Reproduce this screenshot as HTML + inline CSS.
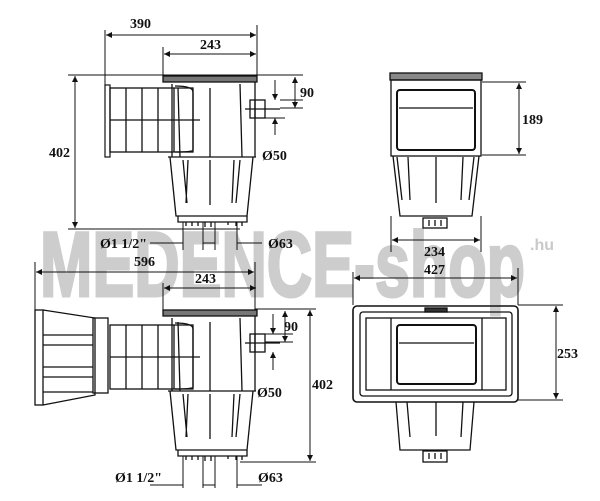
<!DOCTYPE html>
<html><head><meta charset="utf-8"><style>
html,body{margin:0;padding:0;background:#fff;}
svg{display:block}
text{font-family:"Liberation Serif",serif;font-weight:bold;font-size:14px;fill:#111}
</style></head><body>
<svg width="600" height="501" viewBox="0 0 600 501" xmlns="http://www.w3.org/2000/svg">
<defs>
<marker id="a" viewBox="0 0 10 10" refX="10" refY="5" markerWidth="9" markerHeight="6" orient="auto-start-reverse" markerUnits="userSpaceOnUse"><path d="M0,0L10,5L0,10z" fill="#111"/></marker>
<g id="body" stroke="#111" fill="none" stroke-width="1.3">
  <rect x="163" y="76" width="94" height="6" fill="#777"/>
  <path d="M172,84 L172,157 M255,82 L255,157 M168,157 L256,157"/>
  <path d="M210,88 L210,157 M240,84 L242,157 M178,88 L180,157"/>
  <path d="M170,157 L176,216 L247,216 L253,157"/>
  <path d="M183,160 L187,203 M188,160 L186,203 M210,160 L210,205 M234,160 L232,203 M240,160 L236,203"/>
  <path d="M178,216 L178,222 L247,222 L247,216" />
  <path d="M186,222v4M192,222v4M198,222v4M205,222v5M211,222v5M228,222v3M236,222v4M242,222v4"/>
  <rect x="250" y="100" width="15" height="18"/>
  <path d="M255,100v18M245,109h35"/>
</g>
<g id="basket" stroke="#111" fill="none" stroke-width="1.3">
  <rect x="110" y="88" width="83" height="64"/>
  <path d="M126,88v64M142,88v64M158,88v64M174,88v64M110,120h90"/>
  <path d="M175,86 Q193,86 193,92 L193,150 Q193,152 175,152"/>
</g>
</defs>

<!-- watermark -->
<text x="40" y="296" textLength="485" lengthAdjust="spacingAndGlyphs" style="font-family:'Liberation Sans',sans-serif;font-weight:bold;font-size:92px;fill:#cdcdcd;stroke:#cdcdcd;stroke-width:3">MEDENCE-shop</text>
<text x="530" y="250" style="font-family:'Liberation Sans',sans-serif;font-weight:bold;font-size:16px;fill:#c9c9c9">.hu</text>

<!-- TOP LEFT -->
<use href="#body"/>
<use href="#basket"/>
<rect x="105" y="85" width="5" height="72" fill="none" stroke="#111" stroke-width="1.2"/>
<g stroke="#111" stroke-width="1" fill="none">
  <path d="M105,30V86M257,25V76M163,47V78"/>
  <path d="M106,35H256" marker-start="url(#a)" marker-end="url(#a)"/>
  <path d="M164,54H256" marker-start="url(#a)" marker-end="url(#a)"/>
  <path d="M68,75H303M68,229H240"/>
  <path d="M75,76V228" marker-start="url(#a)" marker-end="url(#a)"/>
  <path d="M280,100H303M280,108H303M255,118H285"/>
  <path d="M295,77V108" marker-start="url(#a)" marker-end="url(#a)"/>
  <path d="M275,80V100" marker-end="url(#a)"/><path d="M275,135V118" marker-end="url(#a)"/>
  <path d="M183,222V250M203,222V250M215,222V250M237,222V250"/>
  <path d="M150,243H183M203,243H215M237,243H262"/>
</g>
<text x="130" y="28">390</text>
<text x="200" y="49">243</text>
<text x="300" y="97">90</text>
<text x="49" y="157">402</text>
<text x="262" y="160">Ø50</text>
<text x="100" y="248">Ø1 1/2"</text>
<text x="268" y="248">Ø63</text>

<!-- BOTTOM LEFT -->
<g transform="translate(0,234)"><use href="#body"/><use href="#basket" transform="translate(0,3)"/></g>
<g stroke="#111" stroke-width="1.3" fill="none">
  <rect x="35" y="310" width="8" height="95"/>
  <path d="M43,310 L95,318 L95,395 L43,405"/>
  <rect x="93" y="318" width="15" height="75"/>
  <path d="M43,335H93M43,345H93M43,367H93M43,377H93M43,392H93"/>
</g>
<g stroke="#111" stroke-width="1" fill="none">
  <path d="M35,262V310M255,262V310M163,283V312"/>
  <path d="M36,272H254" marker-start="url(#a)" marker-end="url(#a)"/>
  <path d="M164,288H256" marker-start="url(#a)" marker-end="url(#a)"/>
  <path d="M255,309H316M240,462H316"/>
  <path d="M310,310V461" marker-start="url(#a)" marker-end="url(#a)"/>
  <path d="M265,334H293M265,342H293"/>
  <path d="M285,311V342" marker-start="url(#a)" marker-end="url(#a)"/>
  <path d="M273,314V334" marker-end="url(#a)"/><path d="M273,370V352" marker-end="url(#a)"/>
  <path d="M183,456V488M203,456V488M215,456V488M237,456V488"/>
  <path d="M150,485H183M203,485H215M237,485H262"/>
</g>
<text x="134" y="266">596</text>
<text x="195" y="283">243</text>
<text x="284" y="331">90</text>
<text x="312" y="389">402</text>
<text x="257" y="397">Ø50</text>
<text x="115" y="482">Ø1 1/2"</text>
<text x="258" y="482">Ø63</text>

<!-- TOP RIGHT -->
<g stroke="#111" stroke-width="1.3" fill="none">
  <rect x="390" y="73" width="92" height="7" fill="#888"/>
  <rect x="391" y="80" width="90" height="76"/>
  <rect x="397" y="90" width="78" height="60" rx="3" stroke-width="2"/>
  <path d="M399,108H473"/>
  <path d="M393,156 L400,216 L472,216 L479,156"/>
  <path d="M397,157L402,200M408,157L410,200M436,157V203M463,157L461,200M474,157L469,200"/>
  <rect x="423" y="218" width="24" height="10"/>
  <path d="M429,220v6M435,220v6M441,220v6"/>
</g>
<g stroke="#111" stroke-width="1" fill="none">
  <path d="M482,82H526M482,155H526"/>
  <path d="M519,83V154" marker-start="url(#a)" marker-end="url(#a)"/>
  <path d="M391,216V252M481,216V252"/>
  <path d="M392,240H480" marker-start="url(#a)" marker-end="url(#a)"/>
  <path d="M353,272V305M518,268V305"/>
  <path d="M354,278H517" marker-start="url(#a)" marker-end="url(#a)"/>
</g>
<text x="522" y="124">189</text>
<text x="424" y="256">234</text>
<text x="424" y="274">427</text>

<!-- BOTTOM RIGHT -->
<g stroke="#111" stroke-width="1.3" fill="none">
  <rect x="353" y="306" width="165" height="96" rx="4" stroke-width="1.6"/>
  <rect x="360" y="312" width="152" height="84" rx="3"/>
  <rect x="366" y="318" width="140" height="72"/>
  <path d="M391,318V390M482,318V390"/>
  <rect x="397" y="325" width="79" height="59" rx="3" stroke-width="2"/>
  <path d="M399,343H474"/>
  <rect x="425" y="308" width="22" height="4" fill="#333"/>
  <path d="M396,402 L400,450 L470,450 L474,402"/>
  <path d="M407,402L410,437M436,402V436M463,402L461,437"/>
  <rect x="423" y="451" width="24" height="11"/>
  <path d="M429,453v6M435,453v6M441,453v6"/>
</g>
<g stroke="#111" stroke-width="1" fill="none">
  <path d="M518,305H563M518,400H563"/>
  <path d="M556,306V399" marker-start="url(#a)" marker-end="url(#a)"/>
</g>
<text x="557" y="358">253</text>
</svg>
</body></html>
